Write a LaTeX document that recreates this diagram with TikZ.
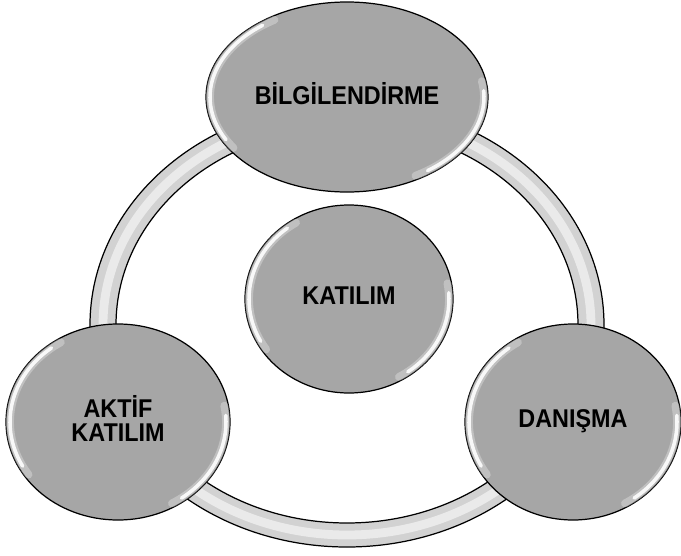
\documentclass[tikz,border=0pt]{standalone}
\usepackage{fontspec}
\setmainfont{Liberation Sans}
\usepackage{tikz}
\usetikzlibrary{shapes.geometric,calc}

\definecolor{blobgray}{HTML}{A6A6A6}
\definecolor{ringgray}{HTML}{D2D2D2}
\newcommand{\lbl}[1]{\scalebox{1}[1.1]{\begin{tabular}{@{}c@{}}#1\end{tabular}}}

\tikzset{
	blob/.style={ellipse, draw=black, line width=0.7pt, fill=blobgray, inner sep=0pt,
		font=\fontsize{13.3}{12}\selectfont\bfseries},
	shine/.style={white, line width=2pt, line cap=round, opacity=0.9},
	glow/.style={white, line width=4.5pt, line cap=round, opacity=0.3},
	rim/.style={black, line width=0.7pt},
}

\begin{document}
\begin{tikzpicture}
	\useasboundingbox (0,0) rectangle (13.62,11.10);

	% ring behind the four discs
	\coordinate (ring) at (6.94,4.60);
	\fill[ringgray, even odd rule] (ring) ellipse [x radius=5.14, y radius=4.44]
		(ring) ellipse [x radius=4.62, y radius=3.96];
	\draw[white, opacity=0.55, line width=5pt] (ring) ellipse [x radius=4.88, y radius=4.20];
	\draw[rim] (ring) ellipse [x radius=5.14, y radius=4.44];
	\draw[rim] (ring) ellipse [x radius=4.62, y radius=3.96];

	\node[blob, minimum width=5.64cm, minimum height=3.80cm] (bilgi) at (6.94,9.16) {\lbl{B\.ILG\.ILEND\.IRME}};
	\node[blob, minimum width=4.16cm, minimum height=3.76cm] (katilim) at (6.98,5.12) {\lbl{KATILIM}};
	\node[blob, minimum width=4.48cm, minimum height=3.92cm] (aktif) at (2.36,2.66) {\lbl{AKT\.IF\\KATILIM}};
	\node[blob, minimum width=4.32cm, minimum height=3.92cm] (danisma) at (11.46,2.66) {\lbl{DANIŞMA}};

	% glossy edges
	\foreach \n/\rx/\ry in {bilgi/2.74/1.82, katilim/2.00/1.80, aktif/2.16/1.88, danisma/2.08/1.88}{
		\draw[glow] ($(\n.center)+(122:\rx cm and \ry cm)$) arc[start angle=122, end angle=214, x radius=\rx cm, y radius=\ry cm];
		\draw[glow] ($(\n.center)+(-60:\rx cm and \ry cm)$) arc[start angle=-60, end angle=10, x radius=\rx cm, y radius=\ry cm];
		\draw[shine] ($(\n.center)+(128:\rx cm and \ry cm)$) arc[start angle=128, end angle=208, x radius=\rx cm, y radius=\ry cm];
		\draw[shine] ($(\n.center)+(-54:\rx cm and \ry cm)$) arc[start angle=-54, end angle=4, x radius=\rx cm, y radius=\ry cm];
	}

\end{tikzpicture}
\end{document}
